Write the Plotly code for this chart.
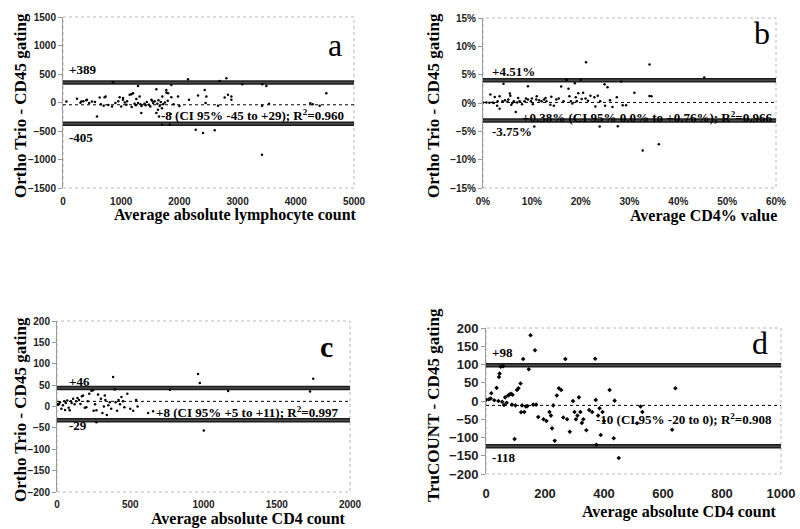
import plotly.graph_objects as go

# ---------------- data ----------------
a_x = [57, 240, 315, 400, 412, 498, 584, 630, 699, 733, 716, 842, 859, 973, 1031, 1031, 1060, 1090,
       1146, 1174, 1203, 1230, 1260, 1289, 1317, 1330, 1346, 1400, 1440, 1480, 1518, 1550, 1575, 1604,
       1604, 1632, 1649, 1661, 1680, 1706, 1701, 1720, 1775, 1776, 1804, 1832, 1850, 1861, 1861, 1900,
       1976, 2000, 2148, 2165, 2280, 2320, 2406, 2434, 2463, 2450, 2607, 2664, 2692, 2778, 2807, 2835,
       2893, 2893, 3081, 3425, 3419, 3419, 3494, 3540, 4249, 4290, 4410, 4524,
       300, 350, 450, 550, 650, 780, 900, 950, 1000, 1100, 1180, 1250, 1290, 1350, 1420, 1500, 1530,
       1620, 1640, 1700, 1750, 1800]
a_y = [17, 64, 17, 40, 47, 17, -245, 87, -58, 105, 94, -70, 355, 93, 77, 47, 0, -40,
       135, 146, 163, -20, 60, 291, 105, -30, -186, -20, 10, -40, 47, -10, 20, 233,
       -186, -128, -245, -60, 10, 105, -390, -30, 221, 175, 163, -390, -200, 93, 309, -30,
       105, -60, 409, 47, -478, 122, -536, 221, 105, -10, -489, -58, 378, 87, 425, 134,
       105, 47, 320, 320, -58, -915, 291, -20, -12, -30, -58, 163,
       -5, 20, -10, 10, -30, -45, -10, 20, -70, 20, -80, -50, -10, -60, -50, -70, 30,
       -20, 40, -100, 0, 30]

b_x = [0, 0.7, 1.3, 2.0, 2.4, 2.9, 3.4, 3.4, 4.0, 4.2, 5.0, 5.5, 5.6, 5.8, 6.3, 6.7, 7.0, 7.5, 8.0,
       8.5, 9.2, 9.2, 9.8, 10.2, 10.5, 10.9, 11.5, 12.0, 12.5, 13.0, 13.8, 14.0, 14.5, 15.0, 16.0,
       16.5, 17.0, 17.2, 17.5, 17.7, 18.0, 18.3, 18.8, 19.0, 19.5, 20.0, 20.2, 20.5, 21.1, 21.5,
       22.0, 22.8, 23.5, 23.9, 24.0, 24.9, 25.5, 26.0, 27.4, 27.6, 28.3, 28.6, 29.3, 31.0, 32.7,
       34.1, 34.1, 34.5, 36.0, 45.3,
       1.5, 2.2, 3.0, 4.5, 5.2, 6.0, 7.2, 8.8, 10.0, 11.0, 12.8, 15.5, 19.2, 21.0, 23.0, 25.0, 26.5]
b_y = [0.07, 0.07, 0.05, 0.1, 1.06, -0.5, 1.2, -1.0, 0.3, 3.4, 0.2, 1.66, 1.3, -0.3, 0.3, -1.6, 0.1,
       0.3, -0.2, 0.3, 2.95, 0.6, 0.3, -0.2, -4.15, 0.6, 0.5, 0.3, 0.6, 0.3, -0.3, 1.1, -0.5, 0.6,
       2.9, 0.3, 4.1, 4.1, 2.5, 1.2, 0.3, -0.1, 3.5, 1.0, 1.7, 4.1, 0.7, 1.8, 7.2, 0.4, 1.3, 1.0,
       1.3, -4.15, 0.3, 3.3, 2.8, 0.5, 1.0, -4.1, 3.8, -0.4, -0.4, 1.8, -8.4, 6.8, 1.25, 1.2, -7.3,
       4.5,
       1.5, 0.0, 0.3, 0.5, 0.6, 0.0, 0.9, 0.8, 0.8, 1.2, 0.9, 0.8, 0.3, 0.8, -0.6, -0.5, -0.7]

c_x = [0, 8, 14, 20, 30, 40, 50, 55, 60, 70, 80, 87, 95, 100, 110, 120, 130, 140, 150, 160, 170,
       178, 190, 200, 210, 220, 235, 246, 250, 260, 269, 269, 280, 300, 310, 320, 326, 330, 340,
       350, 360, 370, 383, 394, 400, 410, 420, 430, 440, 450, 460, 480, 500, 520, 540, 550, 622,
       656, 770, 963, 975, 1002, 1168, 1727, 1749]
c_y = [6, 4, 6, 10, -5, 3, 12, -8, 8, 14, -3, -9, 12, 8, 18, 5, 12, 20, 15, 6, 24, 26, -3, -2,
       12, 30, 37, 38, -10, 5, -9, -37, 28, 18, -15, 0, 26, 15, -20, 3, 10, -5, 69, 40, 10, -10,
       15, 5, 22, 12, -2, 30, -5, -10, 15, 0, -15, -11, 39, 76, 55, -56, 36, 35, 65]

d_x = [0, 10, 16, 18, 28, 36, 42, 44, 46, 50, 55, 58, 61, 65, 70, 75, 80, 85, 88, 90, 97, 100,
       105, 110, 117, 119, 122, 126, 130, 135, 140, 145, 151, 160, 166, 170, 177, 195, 205, 215,
       220, 224, 228, 233, 240, 247, 255, 262, 269, 275, 284, 295, 300, 305, 310, 315, 320, 325,
       330, 340, 350, 360, 370, 372, 374, 380, 385, 389, 395, 400, 419, 433, 436, 450, 512, 524,
       530, 631, 642]
d_y = [3, 5, 7, 21, 2, 36, 0, 66, 75, 94, -2, 95, -11, 10, -5, 15, 18, 20, -10, 17, -104, -12,
       30, 35, 48, -31, -12, 115, -30, -15, -14, 87, 180, -10, 139, -10, -44, -50, -55, -30, -40,
       -75, -12, -109, 15, 35, 30, -45, 115, -50, -84, 0, -30, -50, -40, 10, -30, -60, -50, -80,
       -25, -30, 116, 3, -120, -40, -20, -93, -30, -55, 30, -102, 1, -156, -61, -15, -30, -79, 35]

# limits of agreement and mean difference as drawn
a_lines = {"upper": 350, "mean": -40, "lower": -372}
b_lines = {"upper": 4.0, "mean": 0.1, "lower": -3.1}
c_lines = {"upper": 43, "mean": 12, "lower": -32}
d_lines = {"upper": 98, "mean": -12, "lower": -124}

a_labels = ["+389", "-405", "-8 (CI 95% -45 to +29); R<sup>2</sup>=0.960"]
b_labels = ["+4.51%", "-3.75%", "+0.38% (CI 95% 0.0% to +0.76%); R<sup>2</sup>=0.966"]
c_labels = ["+46", "-29", "+8 (CI 95% +5 to +11); R<sup>2</sup>=0.997"]
d_labels = ["+98", "-118", "-10 (CI 95% -20 to 0); R<sup>2</sup>=0.908"]

W, H = 800, 529
def px(x):
    return x / W
def py(y):
    return 1 - y / H

panels = [
    dict(key="", x=a_x, y=a_y, lines=a_lines, xr=[0, 5000], yr=[-1500, 1500],
         xdom=[px(63), px(354)], ydom=[py(188), py(17)], xd=1000, yd=500, ysuf="", xsuf="",
         tick=10, xgap=4, letter="a"),
    dict(key="2", x=b_x, y=b_y, lines=b_lines, xr=[0, 60], yr=[-15, 15],
         xdom=[px(483), px(776)], ydom=[py(188), py(18)], xd=10, yd=5, ysuf="%", xsuf="%",
         tick=10, xgap=4, letter="b"),
    dict(key="3", x=c_x, y=c_y, lines=c_lines, xr=[0, 2000], yr=[-200, 200],
         xdom=[px(57), px(350)], ydom=[py(492), py(321)], xd=500, yd=50, ysuf="", xsuf="",
         tick=10, xgap=3, letter="c"),
    dict(key="4", x=d_x, y=d_y, lines=d_lines, xr=[0, 1000], yr=[-200, 200],
         xdom=[px(486), px(781)], ydom=[py(474), py(328)], xd=200, yd=50, ysuf="", xsuf="",
         tick=13, xgap=7, letter="d"),
]

fig = go.Figure()
layout = dict(width=W, height=H, margin=dict(l=0, r=0, t=0, b=0, pad=0, autoexpand=False),
              autosize=False, paper_bgcolor="white", plot_bgcolor="white", showlegend=False)
shapes = []
for p in panels:
    k = p["key"]
    xa, ya = "x" + k, "y" + k
    lx = p["xr"]
    for name in ["upper", "lower"]:
        v = p["lines"][name]
        fig.add_trace(go.Scatter(x=lx, y=[v, v], mode="lines", xaxis=xa, yaxis=ya,
                                 line=dict(color="#1e1e1e", width=4.5), hoverinfo="skip"))
        fig.add_trace(go.Scatter(x=lx, y=[v, v], mode="lines", xaxis=xa, yaxis=ya,
                                 line=dict(color="#4a4a4a", width=1.5), hoverinfo="skip"))
    v = p["lines"]["mean"]
    fig.add_trace(go.Scatter(x=lx, y=[v, v], mode="lines", xaxis=xa, yaxis=ya,
                             line=dict(color="black", width=1, dash="dot"), hoverinfo="skip"))
    fig.add_trace(go.Scatter(x=p["x"], y=p["y"], mode="markers", xaxis=xa, yaxis=ya,
                             marker=dict(color="black", size=3.5 if k == "4" else 2.5,
                                         symbol="diamond" if k == "4" else "circle")))
    tf = dict(family="Liberation Sans, Arial", size=p["tick"], color="#222", weight="bold")
    layout["xaxis" + k] = dict(domain=p["xdom"], range=p["xr"], anchor=ya, dtick=p["xd"],
                               showgrid=False, zeroline=False, showline=False, automargin=False,
                               ticks="outside", ticklen=p["xgap"], tickcolor="rgba(0,0,0,0)",
                               tickfont=tf, ticksuffix=p["xsuf"])
    layout["yaxis" + k] = dict(domain=p["ydom"], range=p["yr"], anchor=xa, dtick=p["yd"],
                               showgrid=False, zeroline=False, showline=True, automargin=False,
                               linecolor="#9a9a9a", linewidth=1, ticks="outside",
                               ticklen=4, tickcolor="#9a9a9a", ticksuffix=p["ysuf"],
                               tickfont=tf)
    shapes.append(dict(type="rect", xref=xa + " domain", yref=ya + " domain",
                       x0=0, x1=1, y0=0, y1=1,
                       line=dict(color="#b8b8b8", width=1, dash="dot"), layer="below"))
layout["shapes"] = shapes

serif = "Liberation Serif, Times New Roman, serif"
ann = []
def text(x, y, s, size, xanchor="left", bold=True, angle=0):
    ann.append(dict(x=px(x), y=py(y), xref="paper", yref="paper", text=s, showarrow=False,
                    xanchor=xanchor, yanchor="middle", textangle=angle, borderpad=0,
                    font=dict(family=serif, size=size, color="black",
                              weight="bold" if bold else "normal")))

# panel a
text(68, 70, a_labels[0], 13)
text(68, 137, a_labels[1], 13)
text(345, 115, a_labels[2], 13, xanchor="right")
text(335, 45, "a", 32, xanchor="center", bold=False)
text(20, 106, "Ortho Trio - CD45 gating", 17, xanchor="center", angle=-90)
text(358, 215, "Average absolute lymphocyte count", 16, xanchor="right")
# panel b
text(491, 72, b_labels[0], 13)
text(491, 131, b_labels[1], 13)
text(773, 117, b_labels[2], 13, xanchor="right")
text(762, 33, "b", 32, xanchor="center", bold=False)
text(433, 106, "Ortho Trio - CD45 gating", 17, xanchor="center", angle=-90)
text(778, 216, "Average CD4% value", 16, xanchor="right")
# panel c
text(68, 381, c_labels[0], 13)
text(68, 425, c_labels[1], 13)
text(339, 412, c_labels[2], 13, xanchor="right")
text(326, 346, "c", 30, xanchor="center", bold=True)
text(20, 410, "Ortho Trio - CD45 gating", 17, xanchor="center", angle=-90)
text(347, 519, "Average absolute CD4 count", 16, xanchor="right")
# panel d
text(491, 352, d_labels[0], 13)
text(491, 457, d_labels[1], 13)
text(773, 419, d_labels[2], 13, xanchor="right")
text(760, 343, "d", 32, xanchor="center", bold=False)
text(433, 405, "TruCOUNT - CD45 gating", 17, xanchor="center", angle=-90)
text(778, 512, "Average absolute CD4 count", 16, xanchor="right")

layout["annotations"] = ann
fig.update_layout(**layout)
fig.write_html("out.html", config={"displayModeBar": False},
               post_script="document.body.style.margin='0';document.body.style.overflow='hidden';")
